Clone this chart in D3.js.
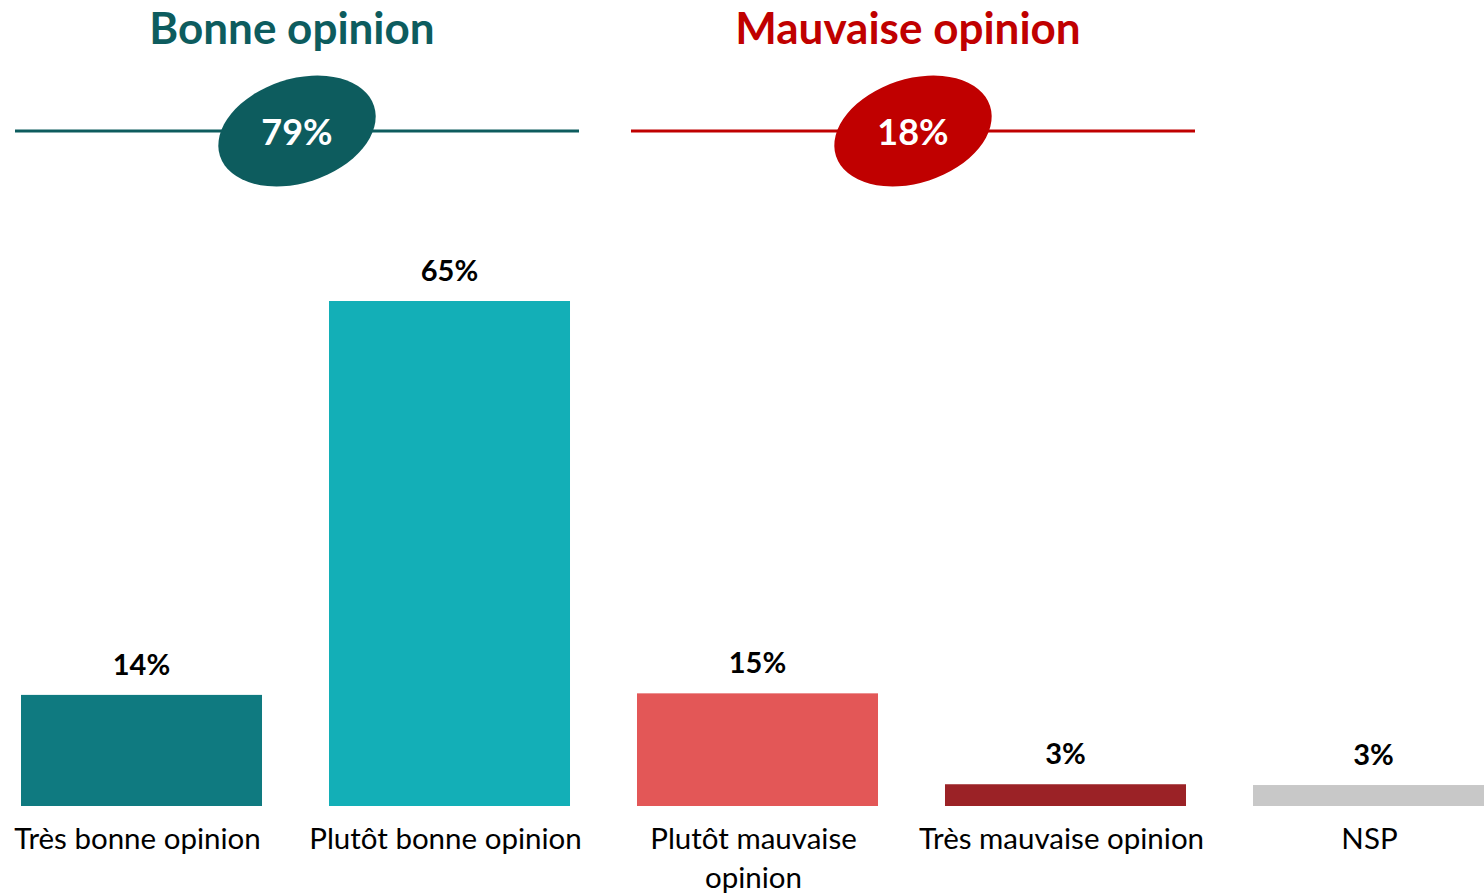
<!DOCTYPE html>
<html><head><meta charset="utf-8">
<script src="https://cdn.jsdelivr.net/npm/d3@7"></script>
<style>
html,body{margin:0;padding:0;background:#fff;}
svg{display:block;font-family:Lato,"Open Sans",sans-serif;}
</style></head>
<body>
<svg id="c" width="1484" height="894"></svg>
<script>
const categories = ["Très bonne opinion","Plutôt bonne opinion","Plutôt mauvaise opinion","Très mauvaise opinion","NSP"];
const values = [14.3, 65, 14.5, 2.8, 2.7];
const labels = ["14%","65%","15%","3%","3%"];
const colors = ["#0F7A80","#13AFB7","#E35757","#9B2226","#C8C8C8"];
const groupTitles = ["Bonne opinion","Mauvaise opinion"];
const groupTotals = ["79%","18%"];
const groupColors = ["#0D5C5E","#C00000"];
const groupMembers = [[0,1],[2,3]];

const svg = d3.select("#c");
const x = d3.scaleBand().domain(d3.range(categories.length)).range([21, 1494]).paddingInner(0.2175).paddingOuter(0);
const y = d3.scaleLinear().domain([0,65]).range([806,301]);

const g = svg.append("g");
g.selectAll("rect.bar").data(values).join("rect")
  .attr("class","bar")
  .attr("x",(d,i)=>x(i)).attr("width",x.bandwidth())
  .attr("y",d=>y(d)).attr("height",d=>y(0)-y(d))
  .attr("fill",(d,i)=>colors[i]);

g.selectAll("text.val").data(values).join("text")
  .attr("class","val")
  .attr("x",(d,i)=>x(i)+x.bandwidth()/2)
  .attr("y",d=>y(d)-20)
  .attr("text-anchor","middle")
  .attr("font-weight","bold").attr("font-size",29).attr("fill","#000")
  .text((d,i)=>labels[i]);

const catLines = [["Très bonne opinion"],["Plutôt bonne opinion"],["Plutôt mauvaise","opinion"],["Très mauvaise opinion"],["NSP"]];
categories.forEach((c,i)=>{
  const cx = x(i)+x.bandwidth()/2 - 4;
  const t = g.append("text").attr("text-anchor","middle").attr("font-size",29.5).attr("fill","#000")
    .attr("x",cx).attr("y",849);
  catLines[i].forEach((l,j)=>{
    t.append("tspan").attr("x",cx).attr("dy",j===0?0:39).text(l);
  });
});

groupTitles.forEach((t,k)=>{
  const m = groupMembers[k];
  const left = x(m[0]) - 6;
  const right = x(m[1]) + x.bandwidth() + 9;
  const cx = (left+right)/2;
  svg.append("text").attr("x",cx - 5).attr("y",44).attr("text-anchor","middle")
    .attr("font-weight","bold").attr("font-size",44).attr("fill",groupColors[k]).text(t);
  svg.append("line").attr("x1",left).attr("x2",right).attr("y1",131).attr("y2",131)
    .attr("stroke",groupColors[k]).attr("stroke-width",3);
  svg.append("ellipse").attr("cx",0).attr("cy",0).attr("rx",81).attr("ry",52)
    .attr("transform",`translate(${cx},131) rotate(-18)`)
    .attr("fill",groupColors[k]);
  svg.append("text").attr("x",cx).attr("y",145).attr("text-anchor","middle")
    .attr("font-weight","bold").attr("font-size",36).attr("fill","#fff").text(groupTotals[k]);
});
</script>
</body></html>
